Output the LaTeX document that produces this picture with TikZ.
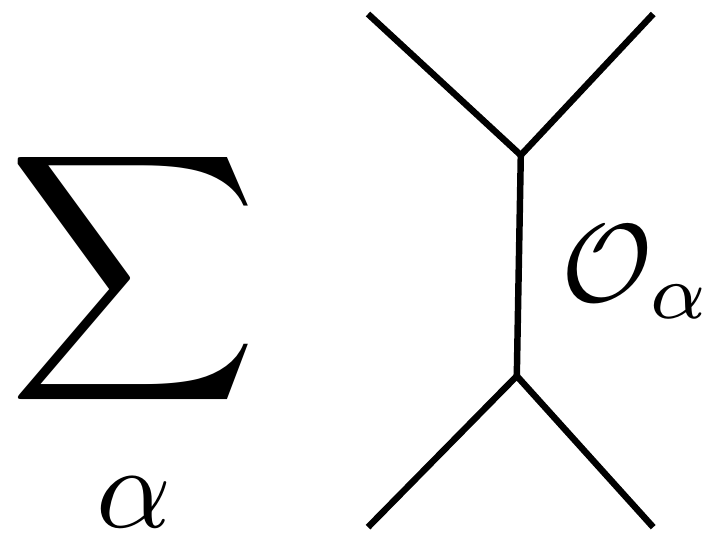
\documentclass[tikz,border=0pt]{standalone}
\usepackage{amsmath}
\usepackage{amssymb}
\usepackage{tikz}

\tikzset{
  leg/.style={line width=4.6pt},
  big/.style={inner sep=0pt, scale=8.3}
}

\begin{document}
\begin{tikzpicture}
            \useasboundingbox (0,0) rectangle (17.725,13.6);
            \node[inner sep=0pt, scale=12.3] (sum) at (3.34,6.64) {$\displaystyle\sum$};
            \node[big] (idx) at (3.34,1.04) {$\alpha$};
            \coordinate (top) at (13.02,9.72);
            \coordinate (bot) at (12.92,4.2);
            \coordinate (ul) at (9.2,13.25);
            \coordinate (ur) at (16.33,13.25);
            \coordinate (ll) at (9.2,0.42);
            \coordinate (lr) at (16.33,0.42);
            \draw[leg] (ul) -- (top) -- (ur);
            \draw[leg] (ll) -- (bot) -- (lr);
            \draw[leg] (top) -- (bot);
            \node[big, scale=0.95, anchor=base west] (op) at (13.98,6.05) {$\mathcal{O}_\alpha$};
        \end{tikzpicture}
\end{document}
